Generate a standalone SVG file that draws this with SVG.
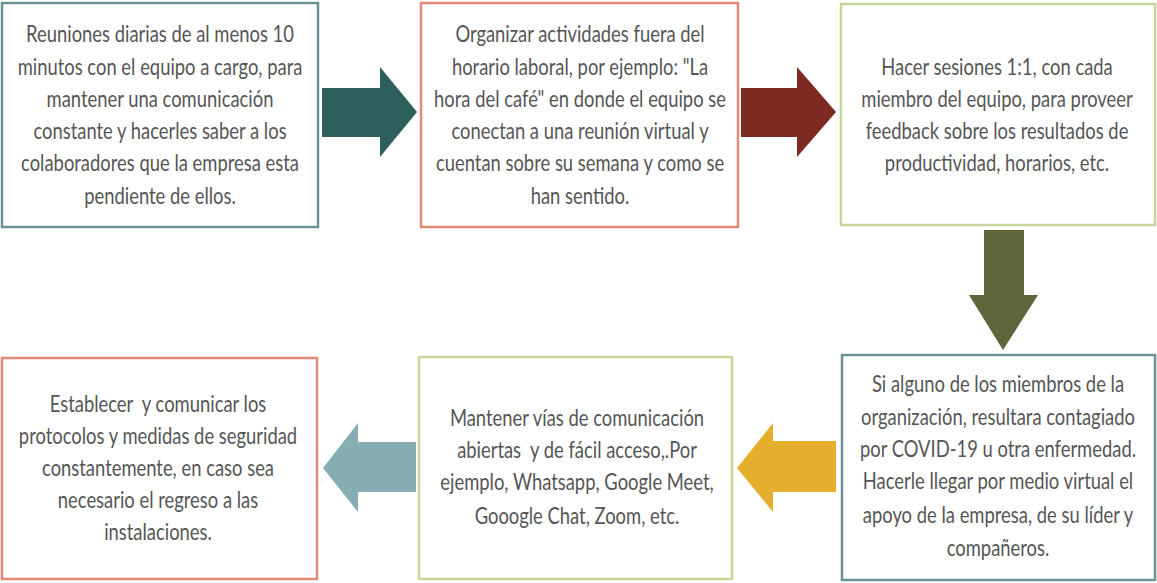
<svg xmlns="http://www.w3.org/2000/svg" width="1157" height="583" viewBox="0 0 1157 583">
  <style>
    .box { fill: #ffffff; stroke-width: 2.5; }
    .txt { font-family: Lato, "Open Sans", sans-serif; font-size: 23px; fill: #555555; text-anchor: middle; white-space: pre; }
    .teal { stroke: #6b9294; }
    .salmon { stroke: #e5887a; }
    .olive { stroke: #c6d69a; }
  </style>
  <rect width="1157" height="583" fill="#ffffff"/>

  <!-- block arrows between steps -->
  <g id="connectors">
    <polygon points="322,88 380,88 380,67 417,112 380,157 380,137 322,137" fill="#2f5f5b"/>
    <polygon points="741,88 797,88 797,67 836,112 797,157 797,137 741,137" fill="#7c2a22"/>
    <polygon points="984,230 1024,230 1024,295 1038,295 1003,350 969,295 984,295" fill="#5c663a"/>
    <polygon points="836,441 773,441 773,423 737,468 773,512 773,492 836,492" fill="#e5ae2d"/>
    <polygon points="416,442 358,442 358,423 323,468 358,512 358,492 416,492" fill="#86adb2"/>
  </g>

  <g id="step1">
    <rect class="box teal" x="2" y="3" width="316" height="224"/>
    <g transform="translate(160,0) scale(0.8,1)">
      <text class="txt" x="0" y="42">Reuniones diarias de al menos 10</text>
      <text class="txt" x="0" y="75">minutos con el equipo a cargo, para</text>
      <text class="txt" x="0" y="107">mantener una comunicación</text>
      <text class="txt" x="0" y="139">constante y hacerles saber a los</text>
      <text class="txt" x="0" y="171">colaboradores que la empresa esta</text>
      <text class="txt" x="0" y="204">pendiente de ellos.</text>
    </g>
  </g>

  <g id="step2">
    <rect class="box salmon" x="421" y="3" width="317" height="224"/>
    <g transform="translate(580,0) scale(0.8,1)">
      <text class="txt" x="0" y="42">Organizar actividades fuera del</text>
      <text class="txt" x="0" y="75">horario laboral, por ejemplo: "La</text>
      <text class="txt" x="0" y="107">hora del café" en donde el equipo se</text>
      <text class="txt" x="0" y="139">conectan a una reunión virtual y</text>
      <text class="txt" x="0" y="171">cuentan sobre su semana y como se</text>
      <text class="txt" x="0" y="204">han sentido.</text>
    </g>
  </g>

  <g id="step3">
    <rect class="box olive" x="841" y="4" width="314" height="221"/>
    <g transform="translate(997,0) scale(0.8,1)">
      <text class="txt" x="0" y="75">Hacer sesiones 1:1, con cada</text>
      <text class="txt" x="0" y="107">miembro del equipo, para proveer</text>
      <text class="txt" x="0" y="139">feedback sobre los resultados de</text>
      <text class="txt" x="0" y="171">productividad, horarios, etc.</text>
    </g>
  </g>

  <g id="step4">
    <rect class="box teal" x="842" y="355" width="313" height="225"/>
    <g transform="translate(998,0) scale(0.8,1)">
      <text class="txt" x="0" y="392">Si alguno de los miembros de la</text>
      <text class="txt" x="0" y="425">organización, resultara contagiado</text>
      <text class="txt" x="0" y="457">por COVID-19 u otra enfermedad.</text>
      <text class="txt" x="0" y="489">Hacerle llegar por medio virtual el</text>
      <text class="txt" x="0" y="523">apoyo de la empresa, de su líder y</text>
      <text class="txt" x="0" y="556">compañeros.</text>
    </g>
  </g>

  <g id="step5">
    <rect class="box olive" x="419" y="357" width="313" height="222"/>
    <g transform="translate(577,0) scale(0.8,1)">
      <text class="txt" x="0" y="426">Mantener vías de comunicación</text>
      <text class="txt" x="0" y="458">abiertas  y de fácil acceso,.Por</text>
      <text class="txt" x="0" y="490">ejemplo, Whatsapp, Google Meet,</text>
      <text class="txt" x="0" y="524">Gooogle Chat, Zoom, etc.</text>
    </g>
  </g>

  <g id="step6">
    <rect class="box salmon" x="2" y="358" width="315" height="221"/>
    <g transform="translate(158,0) scale(0.8,1)">
      <text class="txt" x="0" y="412">Establecer  y comunicar los</text>
      <text class="txt" x="0" y="444">protocolos y medidas de seguridad</text>
      <text class="txt" x="0" y="476">constantemente, en caso sea</text>
      <text class="txt" x="0" y="508">necesario el regreso a las</text>
      <text class="txt" x="0" y="540">instalaciones.</text>
    </g>
  </g>
</svg>
